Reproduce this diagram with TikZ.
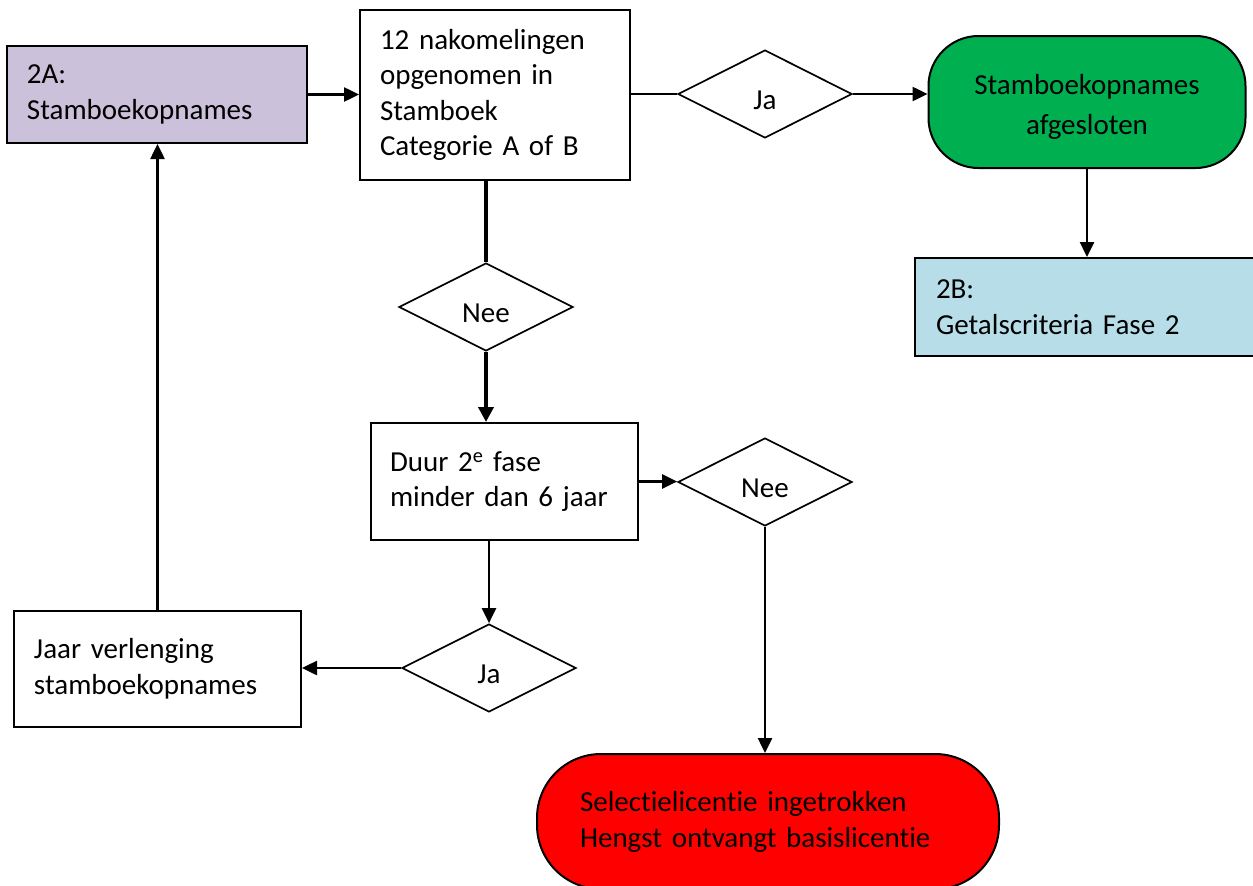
\documentclass[tikz,border=0pt]{standalone}
\usepackage{fontspec}
\setmainfont{Carlito}[Ligatures={NoCommon}]
\usetikzlibrary{shapes.geometric,arrows.meta}
\definecolor{lav}{HTML}{CCC1DA}
\definecolor{grn}{HTML}{00B050}
\definecolor{lblue}{HTML}{B7DEE8}
\definecolor{rd}{HTML}{FF0000}
\begin{document}
\begin{tikzpicture}[x=1pt,y=-1pt,
  txt/.style={font=\fontsize{29}{35.5}\selectfont},
  box/.style={draw=black, line width=2pt, rectangle, inner ysep=0pt, align=left, txt},
  dia/.style={draw=black, line width=1.7pt, diamond, inner sep=0pt, minimum width=174pt,
    minimum height=88pt, fill=white, text height=30pt, text depth=0pt, txt},
  conn/.style={line width=2.5pt, -{Triangle[length=15pt,width=14pt]}},
  plainline/.style={line width=2.5pt},
  thickline/.style={line width=3.7pt},
  thickconn/.style={line width=3.7pt, -{Triangle[length=15pt,width=15pt]}}
]
\useasboundingbox (0,0) rectangle (1253,886);
\clip (0,0) rectangle (1253,886);

\node[box, fill=lav, minimum width=300pt, minimum height=97pt, text width=260pt, inner xsep=20pt]
  (a2A) at (157,94.5) {2A:\\Stamboekopnames};
\node[box, fill=white, minimum width=270pt, minimum height=170pt, text width=230pt, inner xsep=20pt]
  (b12) at (495,95) {12 nakomelingen\\opgenomen in\\Stamboek\\Categorie A of B};
\node[dia] (dJa1) at (765,94) {Ja};
\node[draw=black, line width=2pt, fill=grn, rounded corners=50pt, minimum width=317pt,
  minimum height=132pt, align=center, font=\fontsize{29}{40}\selectfont]
  (gStam) at (1087,102) {\rule{0pt}{29pt}Stamboekopnames\\afgesloten};
\node[box, fill=lblue, anchor=west, minimum width=360pt, minimum height=98pt, text width=318pt,
  inner xsep=21pt] (b2B) at (914,307) {2B:\\Getalscriteria Fase 2};
\node[dia] (dNee1) at (486,307) {Nee};
\node[box, fill=white, minimum width=267pt, minimum height=117pt, text width=229pt, inner xsep=19pt]
  (bDuur) at (504.5,481.5) {Duur 2\textsuperscript{e} fase\\minder dan 6 jaar};
\node[dia] (dNee2) at (765,482) {Nee};
\node[dia] (dJa2) at (489,668) {Ja};
\node[box, fill=white, minimum width=287pt, minimum height=116pt, text width=247pt, inner xsep=20pt]
  (bJaar) at (157.5,669) {Jaar verlenging\\stamboekopnames};
\node[draw=black, line width=2pt, fill=rd, rounded corners=64pt, minimum width=462pt,
  minimum height=135pt, text width=376pt, inner xsep=43pt, inner ysep=0pt, align=left,
  font=\fontsize{29}{36}\selectfont]
  (rRed) at (768,821.5) {Selectielicentie ingetrokken\\Hengst ontvangt basislicentie};

\draw[conn] (a2A.east) -- (a2A.east -| b12.west);
\draw[plainline] (b12.east |- dJa1.west) -- (dJa1.west);
\draw[conn] (dJa1.east) -- (dJa1.east -| gStam.west);
\draw[conn] (gStam.south) -- (gStam.south |- b2B.north);
\draw[thickline] (dNee1.north |- b12.south) -- (dNee1.north);
\draw[thickconn] (dNee1.south) -- (dNee1.south |- bDuur.north);
\draw[conn] (bDuur.east) -- (bDuur.east -| dNee2.west);
\draw[conn] (dNee2.south) -- (dNee2.south |- rRed.north);
\draw[conn] (dJa2.north |- bDuur.south) -- (dJa2.north);
\draw[conn] (dJa2.west) -- (dJa2.west -| bJaar.east);
\draw[conn] (bJaar.north) -- (bJaar.north |- a2A.south);
\end{tikzpicture}
\end{document}
